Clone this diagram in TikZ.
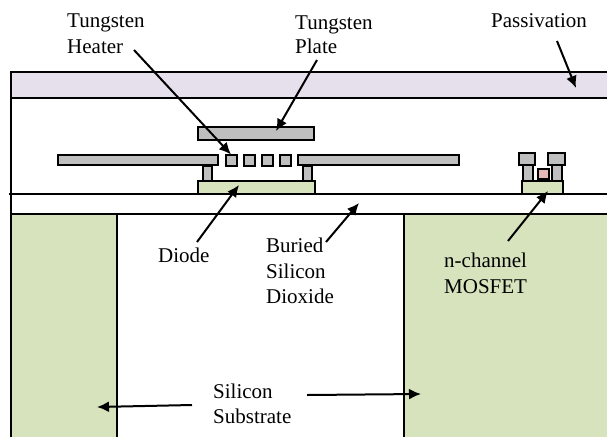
\documentclass[tikz,border=0pt]{standalone}
\usepackage{fontspec}
\setmainfont{Liberation Serif}
\usetikzlibrary{arrows.meta}
\newlength{\du}
\setlength{\du}{1pt}
\definecolor{passivcolor}{rgb}{0.898, 0.878, 0.925}
\definecolor{substcolor}{rgb}{0.843, 0.890, 0.737}
\definecolor{tungstcolor}{rgb}{0.749, 0.749, 0.749}
\definecolor{gatecolor}{rgb}{0.902, 0.725, 0.722}
\tikzset{
  layer/.style={draw=black, line width=2pt, line join=miter},
  block/.style={inner sep=0pt, outer sep=0pt},
  metal/.style={layer, block, fill=tungstcolor},
  label/.style={anchor=base west, inner sep=0pt, font=\fontsize{21}{26}\selectfont, text=black},
  pointer/.style={draw=black, line width=2pt, -{Latex[length=12pt,width=11pt]}},
}

\begin{document}
\begin{tikzpicture}[x=1\du,y=-1\du]
\useasboundingbox (0,0) rectangle (607,437);
% passivation and oxide
\fill[passivcolor] (11,72) rectangle (607,98);
\draw[layer] (607,72)--(11,72)--(11,437);
\draw[layer] (11,98)--(607,98);
% substrate
\fill[substcolor] (11,214) rectangle (117,437);
\fill[substcolor] (404,214) rectangle (607,437);
\draw[layer] (11,437)--(11,214);
\draw[layer] (117,437)--(117,214);
\draw[layer] (404,437)--(404,214);
\draw[layer] (11,214)--(607,214);
% diode
\node[layer, block, fill=substcolor, minimum width=117\du, minimum height=13\du] (diode) at (256.5,187.5) {};
\draw[layer] (9,194)--(607,194);
% tungsten
\node[metal, minimum width=116\du, minimum height=13\du] (plate) at (256,133.5) {};
\node[metal, minimum width=160\du, minimum height=10\du] (armleft) at (138,160) {};
\node[metal, minimum width=161\du, minimum height=10\du] (armright) at (378.5,160) {};
\node[metal, minimum width=9\du, minimum height=15\du] (postleft) at (207.5,173) {};
\node[metal, minimum width=9\du, minimum height=15\du] (postright) at (307.5,173) {};
\foreach \nm/\xx in {heatera/231, heaterb/249.5, heaterc/267.5, heaterd/285.5}
  \node[metal, minimum width=11\du, minimum height=11\du] (\nm) at (\xx,160) {};
% mosfet
\node[layer, block, fill=substcolor, minimum width=41\du, minimum height=13\du] (well) at (542.5,187.5) {};
\node[metal, minimum width=10\du, minimum height=16\du] (sourcepost) at (528,173) {};
\node[metal, minimum width=10\du, minimum height=16\du] (drainpost) at (557,173) {};
\node[metal, minimum width=16\du, minimum height=12\du] (sourcetop) at (527,159) {};
\node[metal, minimum width=17\du, minimum height=12\du] (draintop) at (556.5,159) {};
\node[layer, block, fill=gatecolor, minimum width=11\du, minimum height=10\du] (gate) at (543,173.5) {};
% labels
\node[label] (heaterlabel) at (67,27) {Tungsten};
\node[label] (heaterlabelb) at (67,53) {Heater};
\node[label] (platelabel) at (295,29) {Tungsten};
\node[label] (platelabelb) at (295,53) {Plate};
\node[label] (passivlabel) at (491,27) {Passivation};
\node[label] (diodelabel) at (158,262) {Diode};
\node[label] (buriedlabel) at (266,252) {Buried};
\node[label] (buriedlabelb) at (266,278) {Silicon};
\node[label] (buriedlabelc) at (266,303) {Dioxide};
\node[label] (mosfetlabel) at (444,267) {n-channel};
\node[label] (mosfetlabelb) at (444,293) {MOSFET};
\node[label] (substlabel) at (213,398) {Silicon};
\node[label] (substlabelb) at (213,423) {Substrate};
% arrow ends
\coordinate (heatertail) at (134,50);
\coordinate (platetail) at (317,60);
\coordinate (platehead) at (276,131);
\coordinate (passivtail) at (557,41);
\coordinate (passivhead) at (576,88);
\coordinate (diodetail) at (197,242);
\coordinate (diodehead) at (239,185);
\coordinate (buriedtail) at (326,242);
\coordinate (buriedhead) at (359,203);
\coordinate (mosfettail) at (508,241);
\coordinate (mosfethead) at (548,191);
\coordinate (substtaila) at (192,405);
\coordinate (substheada) at (97,407);
\coordinate (substtailb) at (307,395);
\coordinate (substheadb) at (421,394);
\draw[pointer] (heatertail)--(heatera.north);
\draw[pointer] (platetail)--(platehead);
\draw[pointer] (passivtail)--(passivhead);
\draw[pointer] (diodetail)--(diodehead);
\draw[pointer] (buriedtail)--(buriedhead);
\draw[pointer] (mosfettail)--(mosfethead);
\draw[pointer] (substtaila)--(substheada);
\draw[pointer] (substtailb)--(substheadb);
\end{tikzpicture}
\end{document}
